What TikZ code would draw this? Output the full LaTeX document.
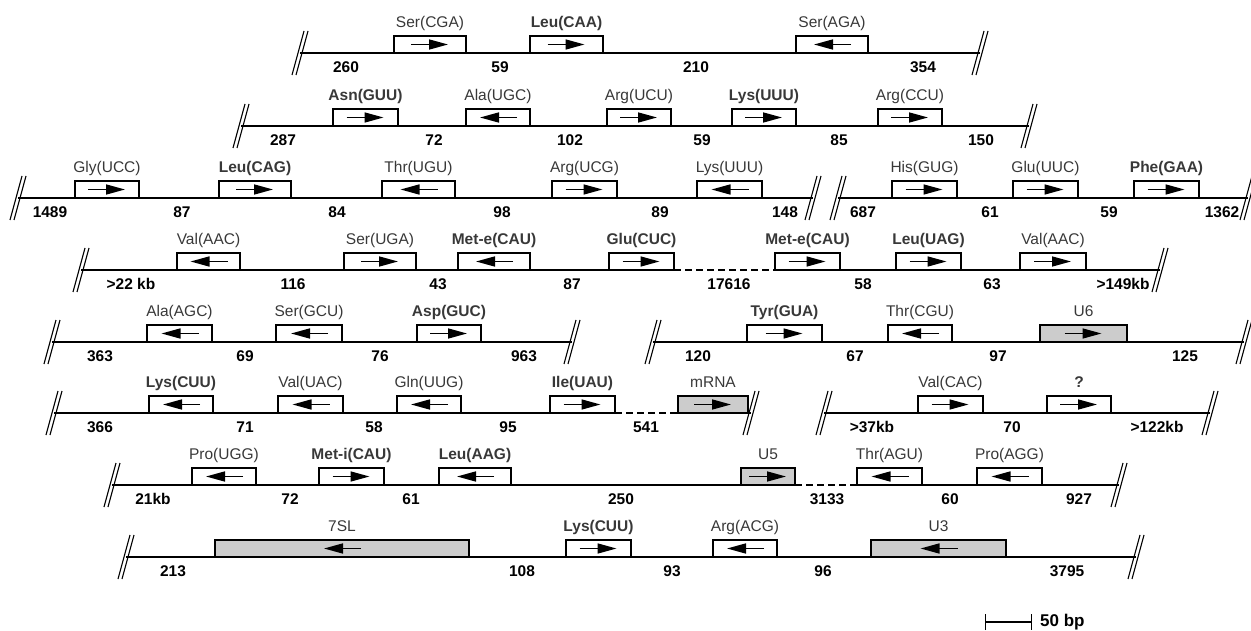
\documentclass[tikz,border=0pt]{standalone}
\usepackage{fontspec}
\setmainfont{Liberation Sans}
\usetikzlibrary{arrows.meta,positioning}
\definecolor{labelgray}{gray}{0.22}
\definecolor{genegray}{gray}{0.8}

\begin{document}
\begin{tikzpicture}[x=1pt,y=-1pt,
    dna/.style={line width=1.3pt},
    gap/.style={line width=1.3pt,dash pattern=on 7pt off 4pt},
    gene/.style={draw,line width=1.1pt,fill=white,anchor=south west,inner sep=0pt,outer sep=0pt,minimum width=#1pt,minimum height=17pt},
    genearrow/.style={line width=1.6pt,-{Triangle[length=19pt,width=10pt]}},
    fwd/.style={path picture={\draw[genearrow] ([xshift=-19pt]path picture bounding box.center) -- ++(37pt,0pt);}},
    rev/.style={path picture={\draw[genearrow] ([xshift=19pt]path picture bounding box.center) -- ++(-37pt,0pt);}},
    fwdg/.style={fwd,fill=genegray},
    revg/.style={rev,fill=genegray},
    lbl/.style={font=\fontsize{15.5}{18}\selectfont,text=labelgray,inner sep=0pt,text height=11pt,text depth=3.5pt},
    num/.style={font=\fontsize{15.5}{18}\selectfont\bfseries,inner sep=0pt},
    brk/.pic={\draw[line width=1.1pt] (4,-22) -- (-8,22) (8,-22) -- (-4,22);}]
  \useasboundingbox (0,0) rectangle (1251,631);

  % row 1
  \coordinate (r1a) at (300,53); \coordinate (r1b) at (980,53);
  \draw[dna] (r1a) -- (r1b);
  \foreach \n/\x/\w/\d/\t in {1/394/72/fwd/Ser(CGA),2/530/73/fwd/\textbf{Leu(CAA)},3/796/72/rev/Ser(AGA)}{
    \node[gene=\w,\d] (r1g\n) at (\x,53) {};
    \node[lbl,above=5pt of r1g\n] (r1t\n) {\t};}
  \pic at (r1a) {brk}; \pic at (r1b) {brk};
  \foreach \x/\t in {346/260,500/59,696/210,923/354} \node[num] (r1n\x) at (\x,67) {\t};

  % row 2
  \coordinate (r2a) at (241,126); \coordinate (r2b) at (1029,126);
  \draw[dna] (r2a) -- (r2b);
  \foreach \n/\x/\w/\d/\t in {1/333/65/fwd/\textbf{Asn(GUU)},2/466/64/rev/Ala(UGC),3/607/64/fwd/Arg(UCU),
      4/732/64/fwd/\textbf{Lys(UUU)},5/878/64/fwd/Arg(CCU)}{
    \node[gene=\w,\d] (r2g\n) at (\x,126) {};
    \node[lbl,above=5pt of r2g\n] (r2t\n) {\t};}
  \pic at (r2a) {brk}; \pic at (r2b) {brk};
  \foreach \x/\t in {283/287,434/72,570/102,702/59,839/85,981/150} \node[num] (r2n\x) at (\x,140) {\t};

  % row 3
  \coordinate (r3a) at (18,198); \coordinate (r3b) at (813,198);
  \coordinate (r3c) at (838,198); \coordinate (r3d) at (1248,198);
  \draw[dna] (r3a) -- (r3b); \draw[dna] (r3c) -- (r3d);
  \foreach \n/\x/\w/\d/\t in {1/75/64/fwd/Gly(UCC),2/219/72/fwd/\textbf{Leu(CAG)},3/382/73/rev/Thr(UGU),
      4/552/65/fwd/Arg(UCG),5/697/65/rev/Lys(UUU),6/892/65/fwd/His(GUG),7/1013/65/fwd/Glu(UUC),
      8/1134/65/fwd/\textbf{Phe(GAA)}}{
    \node[gene=\w,\d] (r3g\n) at (\x,198) {};
    \node[lbl,above=5pt of r3g\n] (r3t\n) {\t};}
  \pic at (r3a) {brk}; \pic at (r3b) {brk}; \pic at (r3c) {brk}; \pic at (r3d) {brk};
  \foreach \x/\t in {50/1489,182/87,337/84,502/98,660/89,785/148,863/687,990/61,1109/59,1222/1362}
    \node[num] (r3n\x) at (\x,212) {\t};

  % row 4
  \coordinate (r4a) at (81,270); \coordinate (r4b) at (1160,270);
  \foreach \n/\x/\w/\d/\t in {1/177/63/rev/Val(AAC),2/344/72/fwd/Ser(UGA),3/458/72/rev/\textbf{Met-e(CAU)},
      4/609/65/fwd/\textbf{Glu(CUC)},5/775/65/fwd/\textbf{Met-e(CAU)},6/896/65/fwd/\textbf{Leu(UAG)},
      7/1020/66/fwd/Val(AAC)}{
    \node[gene=\w,\d] (r4g\n) at (\x,270) {};
    \node[lbl,above=5pt of r4g\n] (r4t\n) {\t};}
  \draw[dna] (r4a) -- (r4g4.south east);
  \draw[gap] (r4g4.south east) -- (r4g5.south west);
  \draw[dna] (r4g5.south west) -- (r4b);
  \pic at (r4a) {brk}; \pic at (r4b) {brk};
  \foreach \x/\t in {131/>22 kb,293/116,438/43,572/87,729/17616,863/58,992/63,1123/>149kb}
    \node[num] (r4n\x) at (\x,284) {\t};

  % row 5
  \coordinate (r5a) at (52,342); \coordinate (r5b) at (572,342);
  \coordinate (r5c) at (653,342); \coordinate (r5d) at (1244,342);
  \draw[dna] (r5a) -- (r5b); \draw[dna] (r5c) -- (r5d);
  \foreach \n/\x/\w/\d/\t in {1/147/65/rev/Ala(AGC),2/276/66/rev/Ser(GCU),3/417/64/fwd/\textbf{Asp(GUC)},
      4/747/75/fwd/\textbf{Tyr(GUA)},5/888/64/rev/Thr(CGU),6/1040/87/fwdg/U6}{
    \node[gene=\w,\d] (r5g\n) at (\x,342) {};
    \node[lbl,above=5pt of r5g\n] (r5t\n) {\t};}
  \pic at (r5a) {brk}; \pic at (r5b) {brk}; \pic at (r5c) {brk}; \pic at (r5d) {brk};
  \foreach \x/\t in {100/363,245/69,380/76,524/963,698/120,855/67,998/97,1185/125}
    \node[num] (r5n\x) at (\x,356) {\t};

  % row 6
  \coordinate (r6a) at (54,413); \coordinate (r6b) at (751,413);
  \coordinate (r6c) at (824,413); \coordinate (r6d) at (1210,413);
  \foreach \n/\x/\w/\d/\t in {1/149/64/rev/\textbf{Lys(CUU)},2/278/65/rev/Val(UAC),3/397/64/rev/Gln(UUG),
      4/550/65/fwd/\textbf{Ile(UAU)},5/678/70/fwdg/mRNA,6/918/65/fwd/Val(CAC),7/1047/64/fwd/\textbf{?}}{
    \node[gene=\w,\d] (r6g\n) at (\x,413) {};
    \node[lbl,above=5pt of r6g\n] (r6t\n) {\t};}
  \draw[dna] (r6a) -- (r6g4.south east);
  \draw[gap] (r6g4.south east) -- (r6g5.south west);
  \draw[dna] (r6g5.south west) -- (r6b);
  \draw[dna] (r6c) -- (r6d);
  \pic at (r6a) {brk}; \pic at (r6b) {brk}; \pic at (r6c) {brk}; \pic at (r6d) {brk};
  \foreach \x/\t in {100/366,245/71,374/58,508/95,646/541,872/>37kb,1012/70,1157/>122kb}
    \node[num] (r6n\x) at (\x,427) {\t};

  % row 7
  \coordinate (r7a) at (112,485); \coordinate (r7b) at (1119,485);
  \foreach \n/\x/\w/\d/\t in {1/192/64/rev/Pro(UGG),2/319/65/fwd/\textbf{Met-i(CAU)},3/439/72/rev/\textbf{Leu(AAG)},
      4/741/54/fwdg/U5,5/857/65/rev/Thr(AGU),6/977/65/rev/Pro(AGG)}{
    \node[gene=\w,\d] (r7g\n) at (\x,485) {};
    \node[lbl,above=5pt of r7g\n] (r7t\n) {\t};}
  \draw[dna] (r7a) -- (r7g4.south east);
  \draw[gap] (r7g4.south east) -- (r7g5.south west);
  \draw[dna] (r7g5.south west) -- (r7b);
  \pic at (r7a) {brk}; \pic at (r7b) {brk};
  \foreach \x/\t in {153/21kb,290/72,411/61,621/250,827/3133,950/60,1079/927}
    \node[num] (r7n\x) at (\x,499) {\t};

  % row 8
  \coordinate (r8a) at (126,557); \coordinate (r8b) at (1136,557);
  \draw[dna] (r8a) -- (r8b);
  \foreach \n/\x/\w/\d/\t in {1/215/254/revg/7SL,2/566/65/fwd/\textbf{Lys(CUU)},3/713/64/rev/Arg(ACG),
      4/871/135/revg/U3}{
    \node[gene=\w,\d] (r8g\n) at (\x,557) {};
    \node[lbl,above=5pt of r8g\n] (r8t\n) {\t};}
  \pic at (r8a) {brk}; \pic at (r8b) {brk};
  \foreach \x/\t in {173/213,522/108,672/93,823/96,1067/3795} \node[num] (r8n\x) at (\x,571) {\t};

  % scale bar
  \coordinate (sba) at (985,622); \coordinate (sbb) at (1032,622);
  \draw[line width=1.1pt,{Bar[width=16pt]}-{Bar[width=16pt]}] (sba) -- (sbb);
  \node[num,font=\fontsize{17}{20}\selectfont\bfseries,right=8pt of sbb] (sbtext) {50 bp};
\end{tikzpicture}
\end{document}
